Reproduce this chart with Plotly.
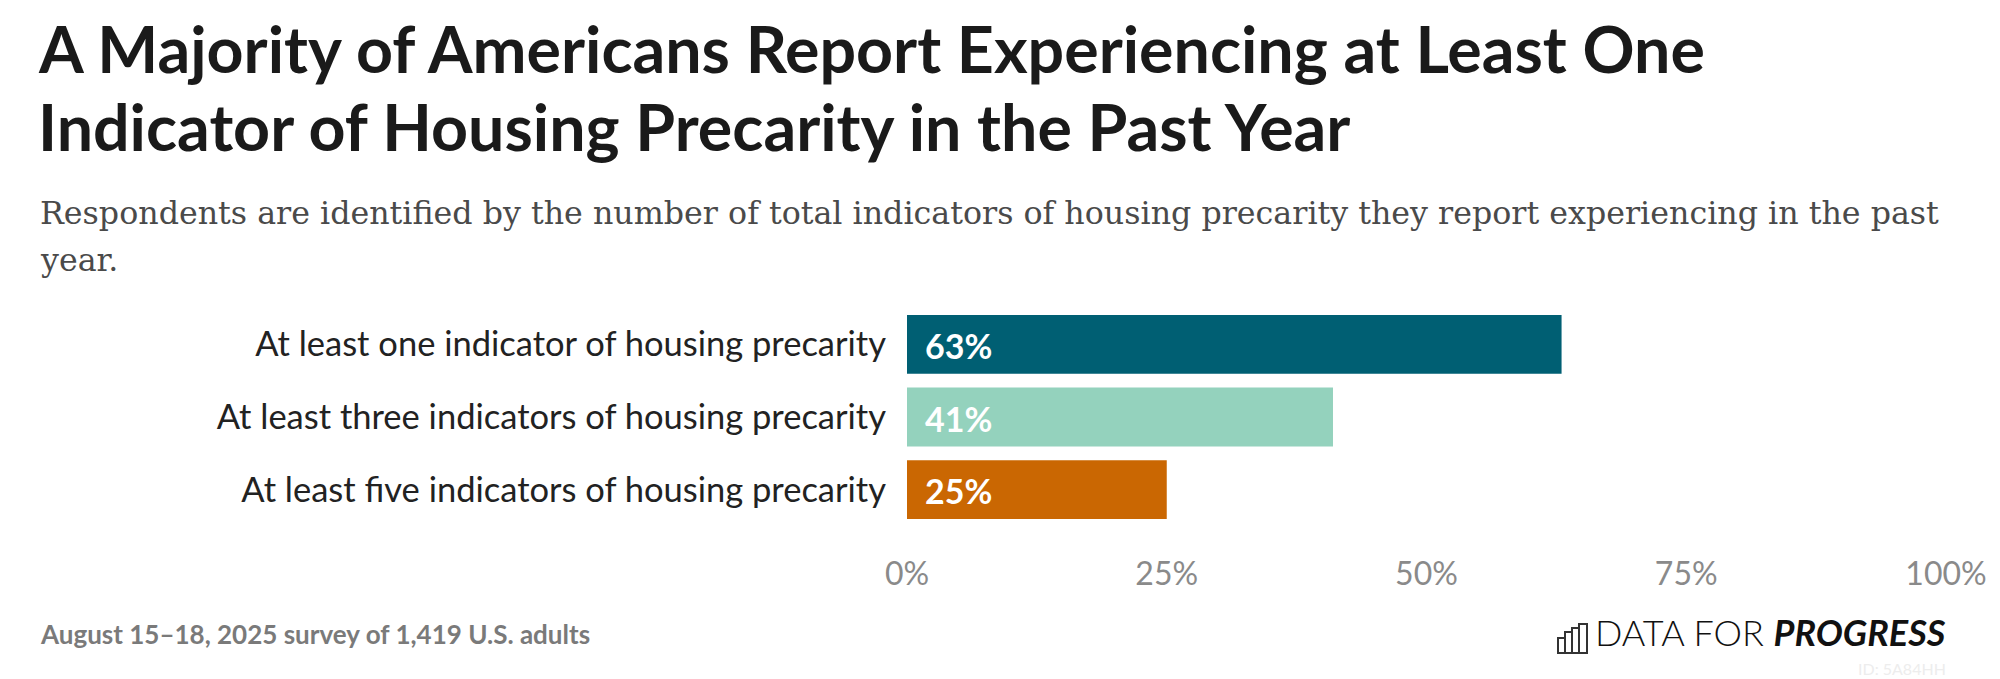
import plotly.graph_objects as go

categories = [
    "At least one indicator of housing precarity",
    "At least three indicators of housing precarity",
    "At least five indicators of housing precarity",
]
values = [63, 41, 25]
colors = ["#005f73", "#94d2bd", "#ca6702"]
tick_vals = [0, 25, 50, 75, 100]
tick_text = ["0%", "25%", "50%", "75%", "100%"]

title_lines = [
    "A Majority of Americans Report Experiencing at Least One",
    "Indicator of Housing Precarity in the Past Year",
]
subtitle_lines = [
    "Respondents are identified by the number of total indicators of housing precarity they report experiencing in the past",
    "year.",
]
footer = "August 15\u201318, 2025 survey of 1,419 U.S. adults"

W, H = 2000, 679
L, R, T, B = 899, 62, 300, 161
PW, PH = W - L - R, H - T - B


def px_x(x):
    return (x - L) / PW


def px_y(y):
    return (H - B - y) / PH


fig = go.Figure(
    go.Bar(
        x=values,
        y=categories,
        orientation="h",
        marker=dict(color=colors, line=dict(width=0)),
        hoverinfo="skip",
    )
)

annotations = []
for c, v in zip(categories, values):
    annotations.append(dict(
        x=0, y=c, xref="x", yref="y", xanchor="left", yanchor="middle",
        xshift=16, yshift=-1, text=f"<b>{v}%</b>", showarrow=False,
        font=dict(family="Lato", size=34, color="#ffffff"),
    ))

# title
for line, yc in zip(title_lines, [40, 118]):
    annotations.append(dict(
        x=px_x(28), y=px_y(yc), xref="paper", yref="paper",
        xanchor="left", yanchor="middle", text=f"<b>{line}</b>",
        showarrow=False, font=dict(family="Lato", size=64.5, color="#1a1a1a"),
    ))
for line, yc in zip(subtitle_lines, [205, 252]):
    annotations.append(dict(
        x=px_x(30), y=px_y(yc), xref="paper", yref="paper",
        xanchor="left", yanchor="middle", text=line,
        showarrow=False, font=dict(family="DejaVu Serif", size=31.7, color="#4a4a4a"),
    ))
annotations.append(dict(
    x=px_x(30), y=px_y(626), xref="paper", yref="paper",
    xanchor="left", yanchor="middle", text=f"<b>{footer}</b>",
    showarrow=False, font=dict(family="Lato", size=26, color="#7a7a7a"),
))
annotations.append(dict(
    x=px_x(1940), y=px_y(624), xref="paper", yref="paper",
    xanchor="right", yanchor="middle",
    text="DATA FOR <b><i>PROGRESS</i></b>",
    showarrow=False, font=dict(family="Lato", size=36, color="#111111", weight=300),
))
annotations.append(dict(
    x=px_x(1940), y=px_y(660), xref="paper", yref="paper",
    xanchor="right", yanchor="middle", text="ID: 5A84HH",
    showarrow=False, font=dict(family="Lato", size=16, color="#ededed"),
))

# logo icon (small bar chart outline)
shapes = []
icon_bars = [(1550, 1557, 630), (1557, 1564, 624), (1564, 1571, 620), (1571, 1579, 616)]
for x0, x1, top in icon_bars:
    shapes.append(dict(
        type="rect", xref="paper", yref="paper",
        x0=px_x(x0), x1=px_x(x1), y0=px_y(645), y1=px_y(top),
        line=dict(color="#333333", width=2), fillcolor="rgba(0,0,0,0)",
    ))

fig.update_layout(
    width=W, height=H,
    margin=dict(l=L, r=R, t=T, b=B, pad=0),
    paper_bgcolor="white", plot_bgcolor="white",
    showlegend=False,
    bargap=0.19,
    annotations=annotations,
    shapes=shapes,
    xaxis=dict(
        range=[0, 100], tickvals=tick_vals, ticktext=tick_text,
        showgrid=False, zeroline=False, showline=False, ticks="",
        tickfont=dict(family="Lato", size=32, color="#8a8a8a"),
        ticklabelstandoff=26, fixedrange=True,
    ),
    yaxis=dict(
        autorange="reversed", showgrid=False, zeroline=False, showline=False,
        ticks="", tickfont=dict(family="Lato", size=34.5, color="#222222"),
        ticklabelstandoff=20, fixedrange=True,
    ),
)

fig.write_html("out.html", config={"displayModeBar": False})
